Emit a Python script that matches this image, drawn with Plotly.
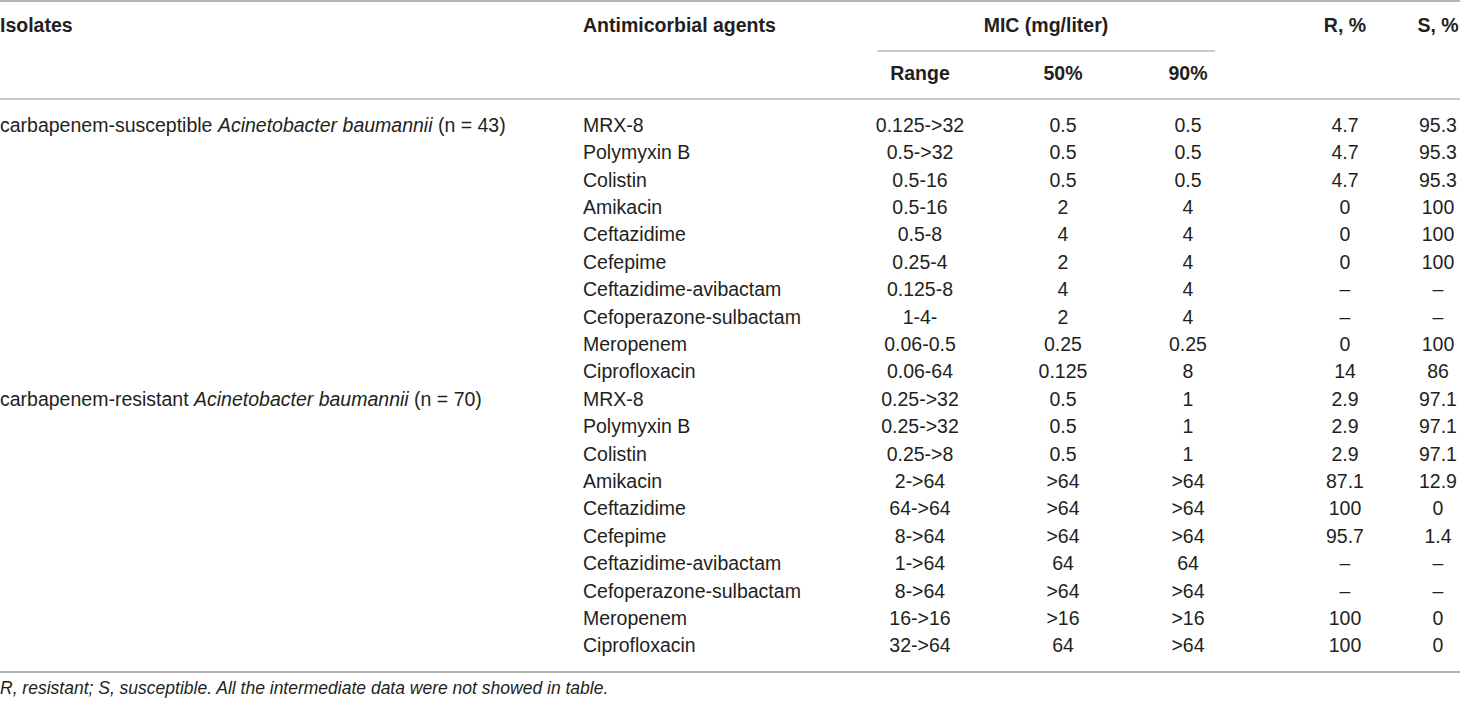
import plotly.graph_objects as go

# Table content
isolates = [
    "carbapenem-susceptible <i>Acinetobacter baumannii</i> (n = 43)",
    "carbapenem-resistant <i>Acinetobacter baumannii</i> (n = 70)",
]
agents = ["MRX-8", "Polymyxin B", "Colistin", "Amikacin", "Ceftazidime", "Cefepime",
          "Ceftazidime-avibactam", "Cefoperazone-sulbactam", "Meropenem", "Ciprofloxacin"]

mic_range = ["0.125->32", "0.5->32", "0.5-16", "0.5-16", "0.5-8", "0.25-4", "0.125-8", "1-4-", "0.06-0.5", "0.06-64",
             "0.25->32", "0.25->32", "0.25->8", "2->64", "64->64", "8->64", "1->64", "8->64", "16->16", "32->64"]
mic_50 = ["0.5", "0.5", "0.5", "2", "4", "2", "4", "2", "0.25", "0.125",
          "0.5", "0.5", "0.5", ">64", ">64", ">64", "64", ">64", ">16", "64"]
mic_90 = ["0.5", "0.5", "0.5", "4", "4", "4", "4", "4", "0.25", "8",
          "1", "1", "1", ">64", ">64", ">64", "64", ">64", ">16", ">64"]
r_pct = ["4.7", "4.7", "4.7", "0", "0", "0", "–", "–", "0", "14",
         "2.9", "2.9", "2.9", "87.1", "100", "95.7", "–", "–", "100", "100"]
s_pct = ["95.3", "95.3", "95.3", "100", "100", "100", "–", "–", "100", "86",
         "97.1", "97.1", "97.1", "12.9", "0", "1.4", "–", "–", "0", "0"]

footnote = "<i>R, resistant; S, susceptible. All the intermediate data were not showed in table.</i>"

# Layout (pixel units)
W, H = 1460, 703
FONT = "Liberation Sans, Arial, sans-serif"
TXT = "#231f20"
LINE = "#9a9a9a"
ROW0, ROWH = 127, 27.4
X_ISO, X_AGENT = 0, 583
X_RANGE, X_50, X_90, X_R, X_S = 920, 1063, 1188, 1345, 1438

rows = list(range(len(mic_range)))
ys = [ROW0 + i * ROWH for i in rows]
all_agents = agents * 2

fig = go.Figure()

def text_col(x, y, text, pos, size=19.5):
    fig.add_trace(go.Scatter(
        x=[x] * len(y) if not isinstance(x, list) else x, y=y, text=text,
        mode="text", textposition=pos, hoverinfo="skip", showlegend=False,
        textfont=dict(family=FONT, size=size, color=TXT),
    ))

# body
text_col(X_ISO, [ys[0], ys[10]], isolates, "middle right")
text_col(X_AGENT, ys, all_agents, "middle right")
text_col(X_RANGE, ys, mic_range, "middle center")
text_col(X_50, ys, mic_50, "middle center")
text_col(X_90, ys, mic_90, "middle center")
text_col(X_R, ys, r_pct, "middle center")
text_col(X_S, ys, s_pct, "middle center")

# header
hdr = lambda s: "<b>" + s + "</b>"
text_col([X_ISO, X_AGENT], [27, 27], [hdr("Isolates"), hdr("Antimicorbial agents")], "middle right")
text_col([1046, X_R, X_S], [27, 27, 27], [hdr("MIC (mg/liter)"), hdr("R, %"), hdr("S, %")], "middle center")
text_col([X_RANGE, X_50, X_90], [75, 75, 75], [hdr("Range"), hdr("50%"), hdr("90%")], "middle center")

# footnote
text_col([X_ISO], [690], [footnote], "middle right", size=17.5)

# rules
for y0, x0, x1, w in [(1, 0, W, 1.5), (99, 0, W, 1.2), (51, 877, 1215, 1.2), (672, 0, W, 1.5)]:
    fig.add_shape(type="line", x0=x0, x1=x1, y0=y0, y1=y0, xref="x", yref="y",
                  line=dict(color=LINE, width=w))

fig.update_layout(
    width=W, height=H,
    margin=dict(l=0, r=0, t=0, b=0),
    paper_bgcolor="white", plot_bgcolor="white",
    xaxis=dict(range=[0, W], visible=False, fixedrange=True),
    yaxis=dict(range=[H, 0], visible=False, fixedrange=True),
)

fig.write_html("out.html", config={"displayModeBar": False},
               post_script="document.body.style.margin='0';")
